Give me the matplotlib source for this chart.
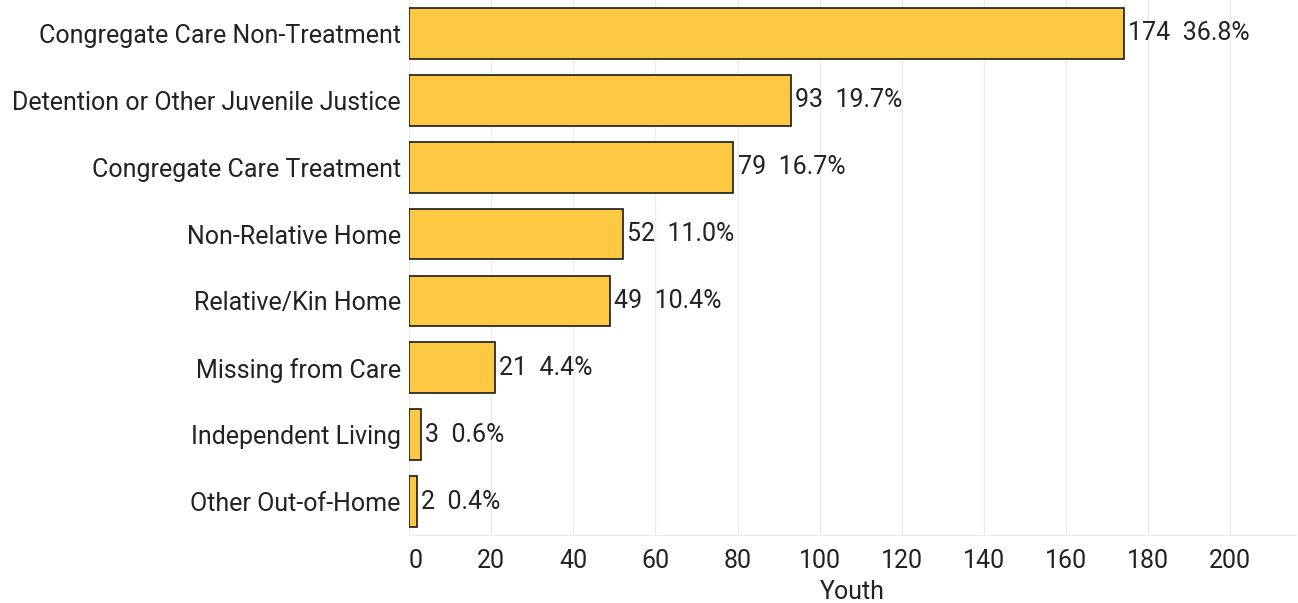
import matplotlib.pyplot as plt
import numpy as np

plt.rcParams["font.family"] = ["Roboto", "DejaVu Sans"]

categories = [
    "Congregate Care Non-Treatment",
    "Detention or Other Juvenile Justice",
    "Congregate Care Treatment",
    "Non-Relative Home",
    "Relative/Kin Home",
    "Missing from Care",
    "Independent Living",
    "Other Out-of-Home",
]
counts = [174, 93, 79, 52, 49, 21, 3, 2]
percents = ["36.8%", "19.7%", "16.7%", "11.0%", "10.4%", "4.4%", "0.6%", "0.4%"]
xticks = [0, 20, 40, 60, 80, 100, 120, 140, 160, 180, 200]

fig = plt.figure(figsize=(12.98, 6.03), dpi=100)
ax = fig.add_axes([409 / 1298, 1 - 535 / 603, 887 / 1298, 535 / 603])

y = np.arange(len(categories))
ax.barh(y, counts, height=0.76, color="#FDC843", edgecolor="#1a1a1a", linewidth=1.2, zorder=3)
for yi, c, p in zip(y, counts, percents):
    ax.text(c + 1.0, yi, f"{c}  {p}", va="center", ha="left", fontsize=18, color="#222222")

ax.set_ylim(len(categories) - 0.5, -0.5)
ax.set_xlim(0, 216)
ax.set_yticks(y)
ax.set_yticklabels(categories, fontsize=18, color="#222222")
ax.set_xticks(xticks)
ax.set_xticklabels([str(t) for t in xticks], fontsize=18, color="#222222")
ax.get_xticklabels()[0].set_ha("left")
ax.set_xlabel("Youth", fontsize=18, color="#222222", labelpad=5)

ax.grid(axis="x", color="#ebebeb", linewidth=1, zorder=0)
for s in ["top", "right", "left"]:
    ax.spines[s].set_visible(False)
ax.spines["bottom"].set_color("#ebebeb")
ax.tick_params(axis="y", length=0, pad=6)
ax.tick_params(axis="x", length=0, pad=10)

fig.savefig("out.png", dpi=100)
